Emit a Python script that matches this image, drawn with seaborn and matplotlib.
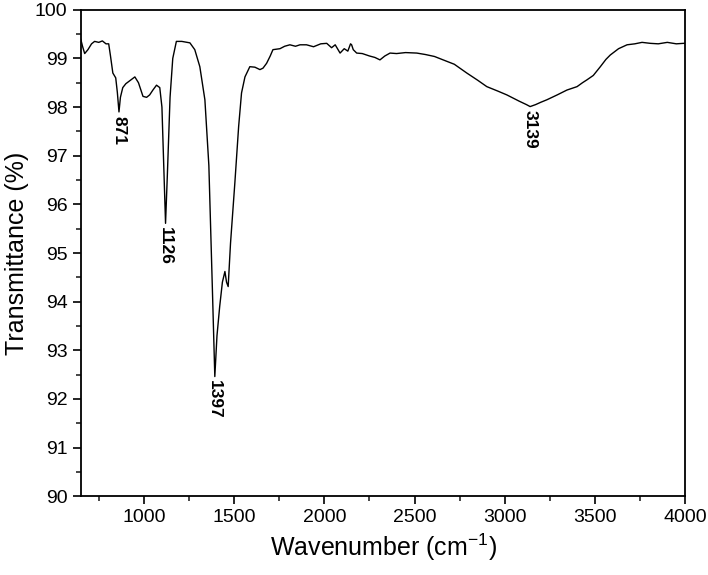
import numpy as np
import pandas as pd
import matplotlib
matplotlib.use("Agg")
import matplotlib.pyplot as plt
import seaborn as sns

wavenumber = [650, 660, 672, 690, 710, 727, 750, 770, 790, 805, 815, 828, 844, 853, 862, 870, 883,
              900, 925, 950, 970, 995, 1015, 1032, 1050, 1070, 1088, 1100, 1110, 1120, 1130, 1145,
              1160, 1180, 1210, 1240, 1255, 1282, 1310, 1338, 1360, 1380, 1393, 1405, 1420, 1435,
              1449, 1458, 1467, 1480, 1504, 1525, 1541, 1560, 1587, 1615, 1643, 1660, 1680, 1700,
              1715, 1754, 1780, 1809, 1840, 1865, 1901, 1940, 1980, 2013, 2040, 2060, 2087, 2110,
              2130, 2145, 2151, 2160, 2179, 2210, 2250, 2280, 2308, 2335, 2364, 2400, 2450, 2512,
              2560, 2610, 2658, 2720, 2789, 2850, 2900, 2960, 3011, 3080, 3120, 3140, 3170, 3200,
              3233, 3290, 3344, 3400, 3430, 3455, 3490, 3529, 3560, 3584, 3630, 3677, 3720, 3760,
              3806, 3850, 3900, 3950, 3990, 4000]
transmittance = [99.40, 99.25, 99.10, 99.18, 99.30, 99.35, 99.33, 99.36, 99.30, 99.30, 99.05, 98.70,
                 98.60, 98.30, 97.90, 98.20, 98.40, 98.48, 98.55, 98.62, 98.50, 98.22, 98.20, 98.25,
                 98.35, 98.45, 98.40, 98.00, 96.80, 95.61, 96.60, 98.20, 99.00, 99.35, 99.35, 99.33,
                 99.32, 99.18, 98.83, 98.15, 96.80, 94.20, 92.46, 93.30, 93.90, 94.40, 94.62, 94.40,
                 94.31, 95.20, 96.44, 97.60, 98.29, 98.62, 98.83, 98.82, 98.77, 98.80, 98.90, 99.05,
                 99.18, 99.20, 99.25, 99.28, 99.25, 99.28, 99.28, 99.24, 99.30, 99.31, 99.22, 99.28,
                 99.11, 99.20, 99.15, 99.30, 99.28, 99.18, 99.11, 99.10, 99.05, 99.02, 98.97, 99.05,
                 99.11, 99.10, 99.12, 99.11, 99.08, 99.04, 98.97, 98.88, 98.70, 98.55, 98.42, 98.33,
                 98.25, 98.12, 98.05, 98.01, 98.05, 98.10, 98.15, 98.25, 98.35, 98.42, 98.50, 98.56,
                 98.65, 98.83, 98.98, 99.07, 99.20, 99.28, 99.30, 99.33, 99.31, 99.30, 99.33, 99.30,
                 99.31, 99.31]

peak_labels = ["871", "1126", "1397", "3139"]
peak_x = [862, 1120, 1393, 3140]
peak_y = [97.90, 95.61, 92.46, 98.01]

sns.set_theme(style="ticks")
plt.rcParams['font.family'] = ['Liberation Sans', 'DejaVu Sans']
plt.rcParams['mathtext.fontset'] = 'custom'
plt.rcParams['mathtext.rm'] = 'Liberation Sans'
plt.rcParams['mathtext.it'] = 'Liberation Sans:italic'
plt.rcParams['mathtext.bf'] = 'Liberation Sans:bold'

df = pd.DataFrame({"Wavenumber": wavenumber, "Transmittance": transmittance})

fig = plt.figure(figsize=(7.08, 5.75), dpi=100)
ax = fig.add_axes([0.114, 0.137, 0.854, 0.846])
sns.lineplot(data=df, x="Wavenumber", y="Transmittance", ax=ax, color="black", linewidth=1.0)

for lab, x, y in zip(peak_labels, peak_x, peak_y):
    ax.text(x, y - 0.08, lab, rotation=-90, ha="center", va="top",
            fontsize=12.5, fontweight="bold", color="black")

ax.set_xlim(650, 4000)
ax.set_ylim(90, 100)
ax.set_xticks([1000, 1500, 2000, 2500, 3000, 3500, 4000])
ax.set_xticks(np.arange(750, 4000, 500), minor=True)
ax.set_yticks(np.arange(90, 101, 1))
ax.set_yticks(np.arange(90.5, 100, 1), minor=True)
ax.tick_params(axis="both", which="major", direction="out", length=6, width=1.2, labelsize=14, colors="black")
ax.tick_params(axis="both", which="minor", direction="out", length=3.5, width=1.2)
for s in ax.spines.values():
    s.set_visible(True)
    s.set_linewidth(1.3)
    s.set_color("black")
ax.set_xlabel("Wavenumber (cm$^{\\mathrm{-1}}$)", fontsize=18, color="black")
ax.set_ylabel("Transmittance (%)", fontsize=18, color="black")
ax.grid(False)

fig.savefig("out.png", dpi=100)
